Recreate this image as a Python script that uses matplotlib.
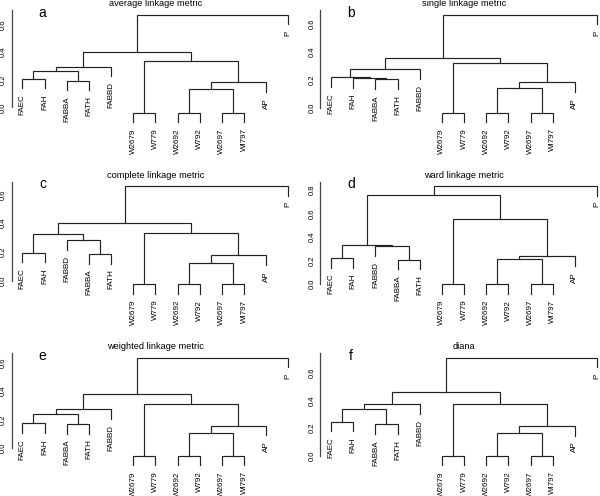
import matplotlib
matplotlib.use('Agg')
import numpy as np
import matplotlib.pyplot as plt
from matplotlib import transforms

plt.rcParams['font.family'] = ['Liberation Sans', 'DejaVu Sans']

# leaf order as drawn
order_a = ["FAEC", "FAH", "FABBA", "FATH", "FABBD", "W2679", "W779",
           "W2692", "W792", "W2697", "WI797", "AP", "P"]
order_c = ["FAEC", "FAH", "FABBD", "FABBA", "FATH", "W2679", "W779",
           "W2692", "W792", "W2697", "WI797", "AP", "P"]

# merges like R's hclust: (left, right, height); ints point to earlier merges
avg_merges = [("FAEC", "FAH", 0.208), ("FABBA", "FATH", 0.193), (0, 1, 0.264),
              (2, "FABBD", 0.295), ("W2679", "W779", -0.038), ("W2692", "W792", -0.038),
              ("W2697", "WI797", -0.038), (5, 6, 0.131), (7, "AP", 0.182),
              (4, 8, 0.336), (3, 9, 0.399), (10, "P", 0.670)]
single_merges = [("FABBA", "FATH", 0.206), ("FAH", 0, 0.214), ("FAEC", 1, 0.221),
                 (2, "FABBD", 0.278), ("W2679", "W779", -0.031), ("W2692", "W792", -0.031),
                 ("W2697", "WI797", -0.031), (5, 6, 0.142), (7, "AP", 0.185),
                 (4, 8, 0.320), (3, 9, 0.356), (10, "P", 0.666)]
complete_merges = [("FAEC", "FAH", 0.194), ("FABBA", "FATH", 0.187), ("FABBD", 1, 0.280),
                   (0, 2, 0.322), ("W2679", "W779", -0.023), ("W2692", "W792", -0.023),
                   ("W2697", "WI797", -0.023), (5, 6, 0.124), (7, "AP", 0.175),
                   (4, 8, 0.331), (3, 9, 0.404), (10, "P", 0.658)]
ward_merges = [("FAEC", "FAH", 0.223), ("FABBA", "FATH", 0.208), ("FABBD", 1, 0.322),
               (0, 2, 0.334), ("W2679", "W779", 0.0), ("W2692", "W792", 0.0),
               ("W2697", "WI797", 0.0), (5, 6, 0.214), (7, "AP", 0.237),
               (4, 8, 0.557), (3, 9, 0.757), (10, "P", 0.836)]
weighted_merges = [("FAEC", "FAH", 0.174), ("FABBA", "FATH", 0.170), (0, 1, 0.237),
                   (2, "FABBD", 0.272), ("W2679", "W779", -0.052), ("W2692", "W792", -0.052),
                   ("W2697", "WI797", -0.052), (5, 6, 0.109), (7, "AP", 0.158),
                   (4, 8, 0.307), (3, 9, 0.379), (10, "P", 0.632)]
diana_merges = [("FAEC", "FAH", 0.247), ("FABBA", "FATH", 0.228), (0, 1, 0.336),
                (2, "FABBD", 0.372), ("W2679", "W779", 0.0), ("W2692", "W792", 0.0),
                ("W2697", "WI797", 0.0), (5, 6, 0.165), (7, "AP", 0.216),
                (4, 8, 0.372), (3, 9, 0.463), (10, "P", 0.712)]

panels = [
    ("a", "average linkage metric", order_a, avg_merges),
    ("b", "single linkage metric", order_a, single_merges),
    ("c", "complete linkage metric", order_c, complete_merges),
    ("d", "ward linkage metric", order_c, ward_merges),
    ("e", "weighted linkage metric", order_a, weighted_merges),
    ("f", "diana", order_a, diana_merges),
]

W, H = 600, 496
fig = plt.figure(figsize=(6, 4.96), dpi=100)

col_left = [11.7, 320.4]
col_w = 287.3
row_top = [10.4, 181.7, 353.4]
row_h = 116.3
LC = '#222222'


def dendro(ax, order, merges):
    n = len(order)
    pos = {lab: i + 1 for i, lab in enumerate(order)}
    hs = [m[2] for m in merges]
    hang = 0.1 * (max(hs) - min(hs))
    lab_tr = transforms.offset_copy(ax.transData, fig=fig, y=-6, units='dots')
    nx, ny = [], []
    for a, b, h in merges:
        pts = []
        for c in (a, b):
            if isinstance(c, str):
                x, y = pos[c], h - hang
                ax.text(x, y, c, rotation=90, ha='center', va='top',
                        fontsize=5.8, transform=lab_tr)
            else:
                x, y = nx[c], ny[c]
            pts.append((x, y))
        (x1, y1), (x2, y2) = pts
        ax.plot([x1, x1, x2, x2], [y1, h, h, y2], color=LC, lw=0.85,
                solid_joinstyle='miter', clip_on=False)
        nx.append((x1 + x2) / 2)
        ny.append(h)
    lo = min(hs) - hang
    top = max(hs)
    rng = top - lo
    ax.set_ylim(lo - 0.04 * rng, top + 0.04 * rng)
    ax.set_xlim(1 - 0.04 * (n - 1), n + 0.04 * (n - 1))
    ticks = np.arange(0, top + 1e-9, 0.2)
    ax.set_yticks(ticks)
    ax.set_yticklabels(['%.1f' % t for t in ticks])
    ax.spines['left'].set_bounds(0, top + 0.04 * rng)


for k, (letter, title, order, merges) in enumerate(panels):
    r, c = k // 2, k % 2
    left = col_left[c] / W
    bottom = 1 - (row_top[r] + row_h) / H
    ax = fig.add_axes([left, bottom, col_w / W, row_h / H])
    dendro(ax, order, merges)
    for s in ['top', 'right', 'bottom']:
        ax.spines[s].set_visible(False)
    ax.spines['left'].set_color('#444444')
    ax.spines['left'].set_linewidth(0.9)
    ax.set_xticks([])
    ax.tick_params(axis='y', length=0, pad=3.4, labelsize=5.5, labelrotation=90)
    for t in ax.get_yticklabels():
        t.set_va('center')
    ax.patch.set_visible(False)
    ax.text(0.5, 1 + 6.4 / row_h, title, transform=ax.transAxes,
            ha='center', va='center', fontsize=6.7)
    ax.text(0.107, 0.98, letter, transform=ax.transAxes,
            ha='center', va='center', fontsize=10)

fig.savefig('out.png', dpi=100)
